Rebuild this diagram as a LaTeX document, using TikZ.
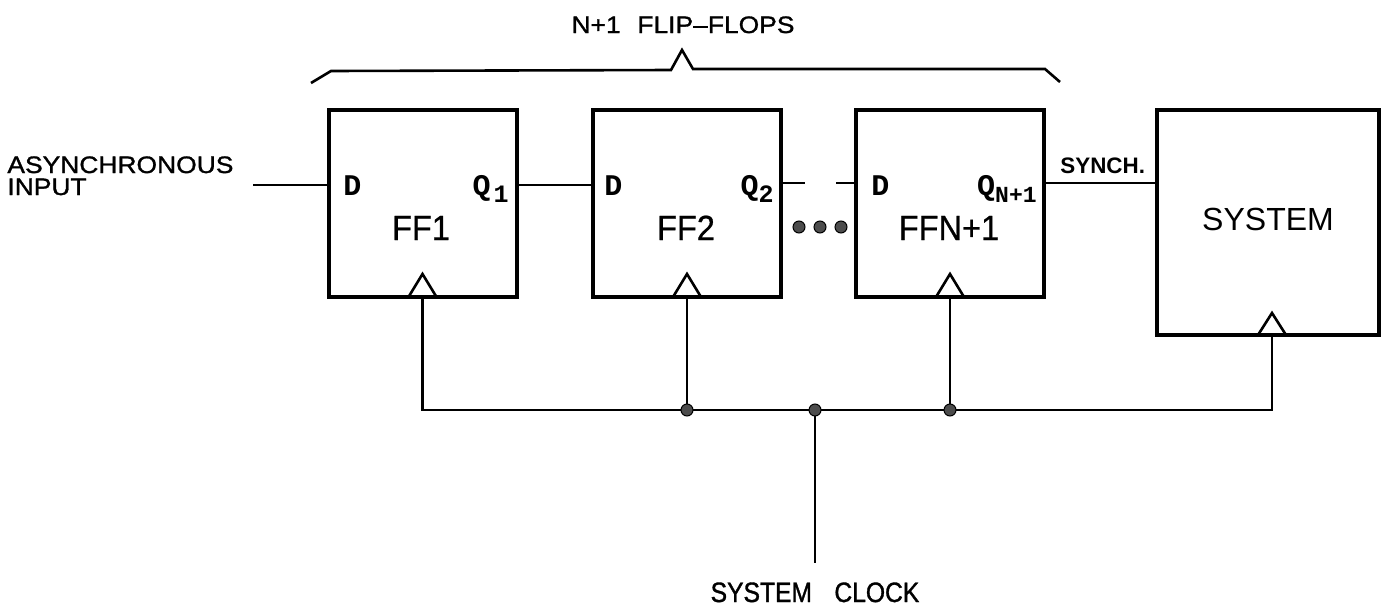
\documentclass[tikz,border=0pt]{standalone}
\usepackage{fontspec}
\setmainfont{Liberation Sans}
\newfontfamily\lblfont[FakeStretch=1.11,FakeBold=1.2]{Liberation Sans}
\newfontfamily\clkfont[FakeStretch=0.88,FakeBold=1.2]{Liberation Sans}
\newfontfamily\fffont[FakeStretch=0.93,FakeBold=0.6]{Liberation Sans}
\newfontfamily\pinfont{Liberation Mono}
\begin{document}
\begin{tikzpicture}[x=0.5pt,y=-0.5pt,
  ffbox/.style={draw, line width=2pt, inner sep=0pt, outer sep=0pt, minimum width=94pt, minimum height=93.5pt},
  sysbox/.style={draw, line width=2pt, inner sep=0pt, outer sep=0pt, minimum width=111pt, minimum height=112.5pt},
  wire/.style={line width=1.3pt},
  dotnode/.style={circle, fill=black!70, draw=black, line width=0.5pt, inner sep=0pt, minimum size=6pt},
  jdot/.style={circle, fill=black!70, draw=black, line width=0.5pt, inner sep=0pt, minimum size=6pt},
  lbl/.style={inner sep=0pt, font=\lblfont\fontsize{11.9}{14}\selectfont},
  clklbl/.style={inner sep=0pt, font=\clkfont\fontsize{14}{16}\selectfont},
  fflbl/.style={inner sep=0pt, anchor=base, font=\fffont\fontsize{17.5}{20}\selectfont},
  pinlbl/.style={inner sep=0pt, font=\pinfont\bfseries\fontsize{15}{17}\selectfont},
  synlbl/.style={inner sep=0pt, font=\bfseries\fontsize{11.2}{13}\selectfont},
]
\useasboundingbox (0,0) rectangle (1388,611);

% boxes
\node[ffbox] (ff1) at (422.5,203.5) {};
\node[ffbox] (ff2) at (687,203.5) {};
\node[ffbox] (ffn) at (950,203.5) {};
\node[sysbox] (sys) at (1268,222.5) {};

% clock triangles
\foreach \b in {ff1,ff2,ffn}{
  \draw[wire, line join=miter] ([xshift=-7pt]\b.south) -- ([yshift=11.5pt]\b.south) -- ([xshift=7pt]\b.south);
}
\coordinate (sysclk) at ([xshift=2pt]sys.south);
\draw[wire, line join=miter] ([xshift=-7pt]sysclk) -- ([yshift=11pt]sysclk) -- ([xshift=7pt]sysclk);

% brace
\draw[wire, line join=miter] (311,83) -- (331,71) -- (671,70) -- (682,50) -- (693,69) -- (1045,69) -- (1060,82);
\node[lbl, anchor=base] (title) at (683,33) {N+1\hspace{0.7em}FLIP–FLOPS};

% data path
\coordinate (ain) at (253,185);
\draw[wire] (ain) -- (ain -| ff1.west);
\draw[wire] (ff1.east |- ain) -- (ff2.west |- ain);
\coordinate (s1) at (805,183);
\coordinate (s2) at (836,183);
\draw[wire] (ff2.east |- s1) -- (s1);
\draw[wire] (s2) -- (ffn.west |- s2);
\draw[wire] (ffn.east |- s1) -- (sys.west |- s1);

\node[lbl, anchor=base west] (async) at (7,173) {ASYNCHRONOUS};
\node[lbl, anchor=base west] (inp) at (7,195) {INPUT};
\node[synlbl, anchor=base west] (synch) at (1060,173) {SYNCH.};

% pins
\node[pinlbl, anchor=base west] (d1) at (343,195) {D};
\node[pinlbl, anchor=base west] (d2) at (604,195) {D};
\node[pinlbl, anchor=base west] (dn) at (871,195) {D};
\node[pinlbl, anchor=base east] (q1) at (509,195) {Q\hspace{1.5pt}\raisebox{-3.5pt}{\fontsize{12.5}{14}\selectfont 1}};
\node[pinlbl, anchor=base east] (q2) at (774,195) {Q\raisebox{-3.5pt}{\fontsize{12.5}{14}\selectfont 2}};
\node[pinlbl, anchor=base east] (qn) at (1037,195) {Q\raisebox{-3.5pt}{\fontsize{11.5}{14}\selectfont N+1}};

% box labels
\node[fflbl] (t1) at (421,240) {FF1};
\node[fflbl] (t2) at (686,240) {FF2};
\node[fflbl] (tn) at (949,240) {FFN+1};
\node[inner sep=0pt, anchor=base, font=\fontsize{16}{18}\selectfont] (ts) at (1268,230) {SYSTEM};

% ellipsis dots
\node[dotnode] (e1) at (799,227) {};
\node[dotnode] (e2) at (820,227) {};
\node[dotnode] (e3) at (841,227) {};

% clock bus
\coordinate (clk) at (815,410);
\coordinate (clkin) at (815,563);
\draw[wire] (ff1.south) |- (clk) -| (sysclk);
\draw[wire] (ff2.south) -- (ff2.south |- clk);
\draw[wire] (ffn.south) -- (ffn.south |- clk);
\draw[wire] (clk) -- (clkin);
\node[jdot] (j1) at (ff2.south |- clk) {};
\node[jdot] (j2) at (clk) {};
\node[jdot] (j3) at (ffn.south |- clk) {};

\node[clklbl, anchor=base] (clklabel) at (815,602) {SYSTEM\hspace{0.8em}CLOCK};
\end{tikzpicture}
\end{document}
